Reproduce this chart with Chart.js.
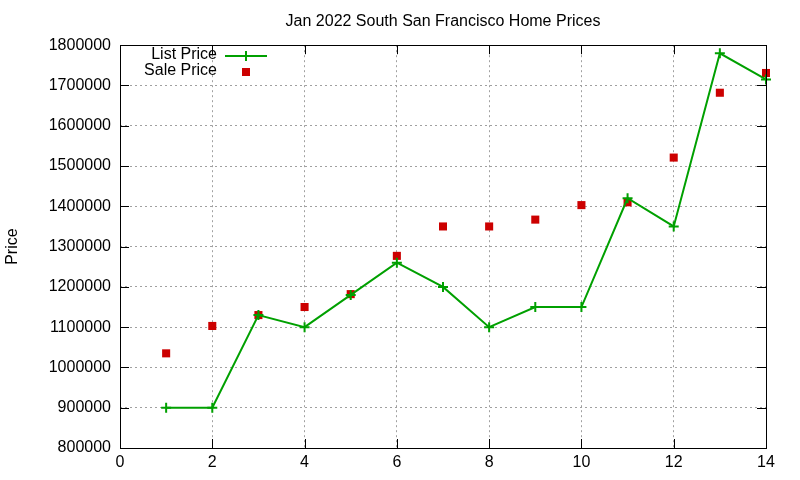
<!DOCTYPE html>
<html>
<head>
<meta charset="utf-8">
<script src="https://cdn.jsdelivr.net/npm/chart.js@4/dist/chart.umd.min.js"></script>
<style>
  html, body { margin: 0; padding: 0; background: #fff; }
  canvas { display: block; }
</style>
</head>
<body>
<canvas id="priceChart" width="800" height="480"></canvas>
<script>
const days = [1, 2, 3, 4, 5, 6, 7, 8, 9, 10, 11, 12, 13, 14];
const listPrice = [900000, 900000, 1130000, 1100000, 1180000, 1260000, 1200000, 1100000, 1150000, 1150000, 1420000, 1350000, 1780000, 1715000];
const salePrice = [1035000, 1103000, 1130000, 1150000, 1182000, 1277000, 1350000, 1350000, 1367000, 1403000, 1410000, 1521000, 1682000, 1731000];
const seriesNames = ['List Price', 'Sale Price'];

const green = 'rgb(0, 160, 0)';
const red = 'rgb(204, 0, 0)';
const fontFamily = '"Liberation Sans", Arial, sans-serif';

// gnuplot style: full black border + inward ticks on both sides
const frame = {
    id: 'frame',
    afterDatasetsDraw(chart) {
        const { ctx, chartArea: a, scales } = chart;
        ctx.save();
        ctx.strokeStyle = '#000';
        ctx.lineWidth = 1;
        ctx.beginPath();
        scales.y.ticks.forEach(t => {
            const y = Math.round(scales.y.getPixelForValue(t.value)) + 0.5;
            ctx.moveTo(a.left, y); ctx.lineTo(a.left + 9, y);
            ctx.moveTo(a.right, y); ctx.lineTo(a.right - 9, y);
        });
        scales.x.ticks.forEach(t => {
            const x = Math.round(scales.x.getPixelForValue(t.value)) + 0.5;
            ctx.moveTo(x, a.bottom); ctx.lineTo(x, a.bottom - 9);
            ctx.moveTo(x, a.top); ctx.lineTo(x, a.top + 9);
        });
        ctx.stroke();
        ctx.strokeRect(Math.round(a.left) + 0.5, Math.round(a.top) + 0.5,
            Math.round(a.right - a.left), Math.round(a.bottom - a.top));
        ctx.restore();
    }
};

// legend inside the plot, text left of the sample
const keyBox = {
    id: 'keyBox',
    afterDraw(chart) {
        const ctx = chart.ctx;
        ctx.save();
        ctx.font = '16px ' + fontFamily;
        ctx.fillStyle = '#000';
        ctx.textAlign = 'right';
        ctx.textBaseline = 'middle';
        ctx.fillText(seriesNames[0], 217, 55);
        ctx.fillText(seriesNames[1], 217, 71);
        ctx.strokeStyle = green;
        ctx.lineWidth = 2;
        ctx.beginPath();
        ctx.moveTo(225, 56); ctx.lineTo(267, 56);
        ctx.moveTo(246, 51); ctx.lineTo(246, 61);
        ctx.stroke();
        ctx.fillStyle = red;
        ctx.fillRect(242, 68, 8, 8);
        ctx.restore();
    }
};

new Chart(document.getElementById('priceChart'), {
    type: 'scatter',
    data: {
        datasets: [{
            label: seriesNames[0],
            data: days.map((d, i) => ({ x: d, y: listPrice[i] })),
            showLine: true,
            borderColor: green,
            backgroundColor: green,
            borderWidth: 2,
            pointStyle: 'cross',
            pointRadius: 5,
            pointBorderWidth: 2,
            clip: false
        }, {
            label: seriesNames[1],
            data: days.map((d, i) => ({ x: d, y: salePrice[i] })),
            showLine: false,
            borderColor: red,
            backgroundColor: red,
            pointStyle: 'rect',
            pointRadius: 5.7,
            pointBorderWidth: 0,
            clip: false
        }]
    },
    options: {
        responsive: false,
        animation: false,
        layout: { padding: { left: 0, right: 34, top: 0, bottom: 0 } },
        plugins: {
            legend: { display: false },
            tooltip: { enabled: false },
            title: {
                display: true,
                fullSize: false,
                text: 'Jan 2022 South San Francisco Home Prices',
                color: '#000',
                font: { family: fontFamily, size: 16, weight: 'normal' },
                padding: { top: 12, bottom: 14 }
            }
        },
        scales: {
            x: {
                type: 'linear',
                min: 0,
                max: 14,
                ticks: {
                    stepSize: 2,
                    color: '#000',
                    padding: 5,
                    font: { family: fontFamily, size: 16 }
                },
                grid: {
                    color: '#a0a0a0',
                    drawTicks: false
                },
                border: { display: false, dash: [2, 3] },
                afterFit(scale) { scale.height = 32; }
            },
            y: {
                min: 800000,
                max: 1800000,
                ticks: {
                    stepSize: 100000,
                    color: '#000',
                    padding: 9,
                    font: { family: fontFamily, size: 16 },
                    callback: v => String(v)
                },
                grid: {
                    color: '#a0a0a0',
                    drawTicks: false
                },
                border: { display: false, dash: [2, 3] },
                title: {
                    display: true,
                    text: 'Price',
                    color: '#000',
                    font: { family: fontFamily, size: 16 },
                    padding: { top: 3, bottom: 0 }
                },
                afterFit(scale) { scale.width = 120; }
            }
        }
    },
    plugins: [frame, keyBox]
});
</script>
</body>
</html>
